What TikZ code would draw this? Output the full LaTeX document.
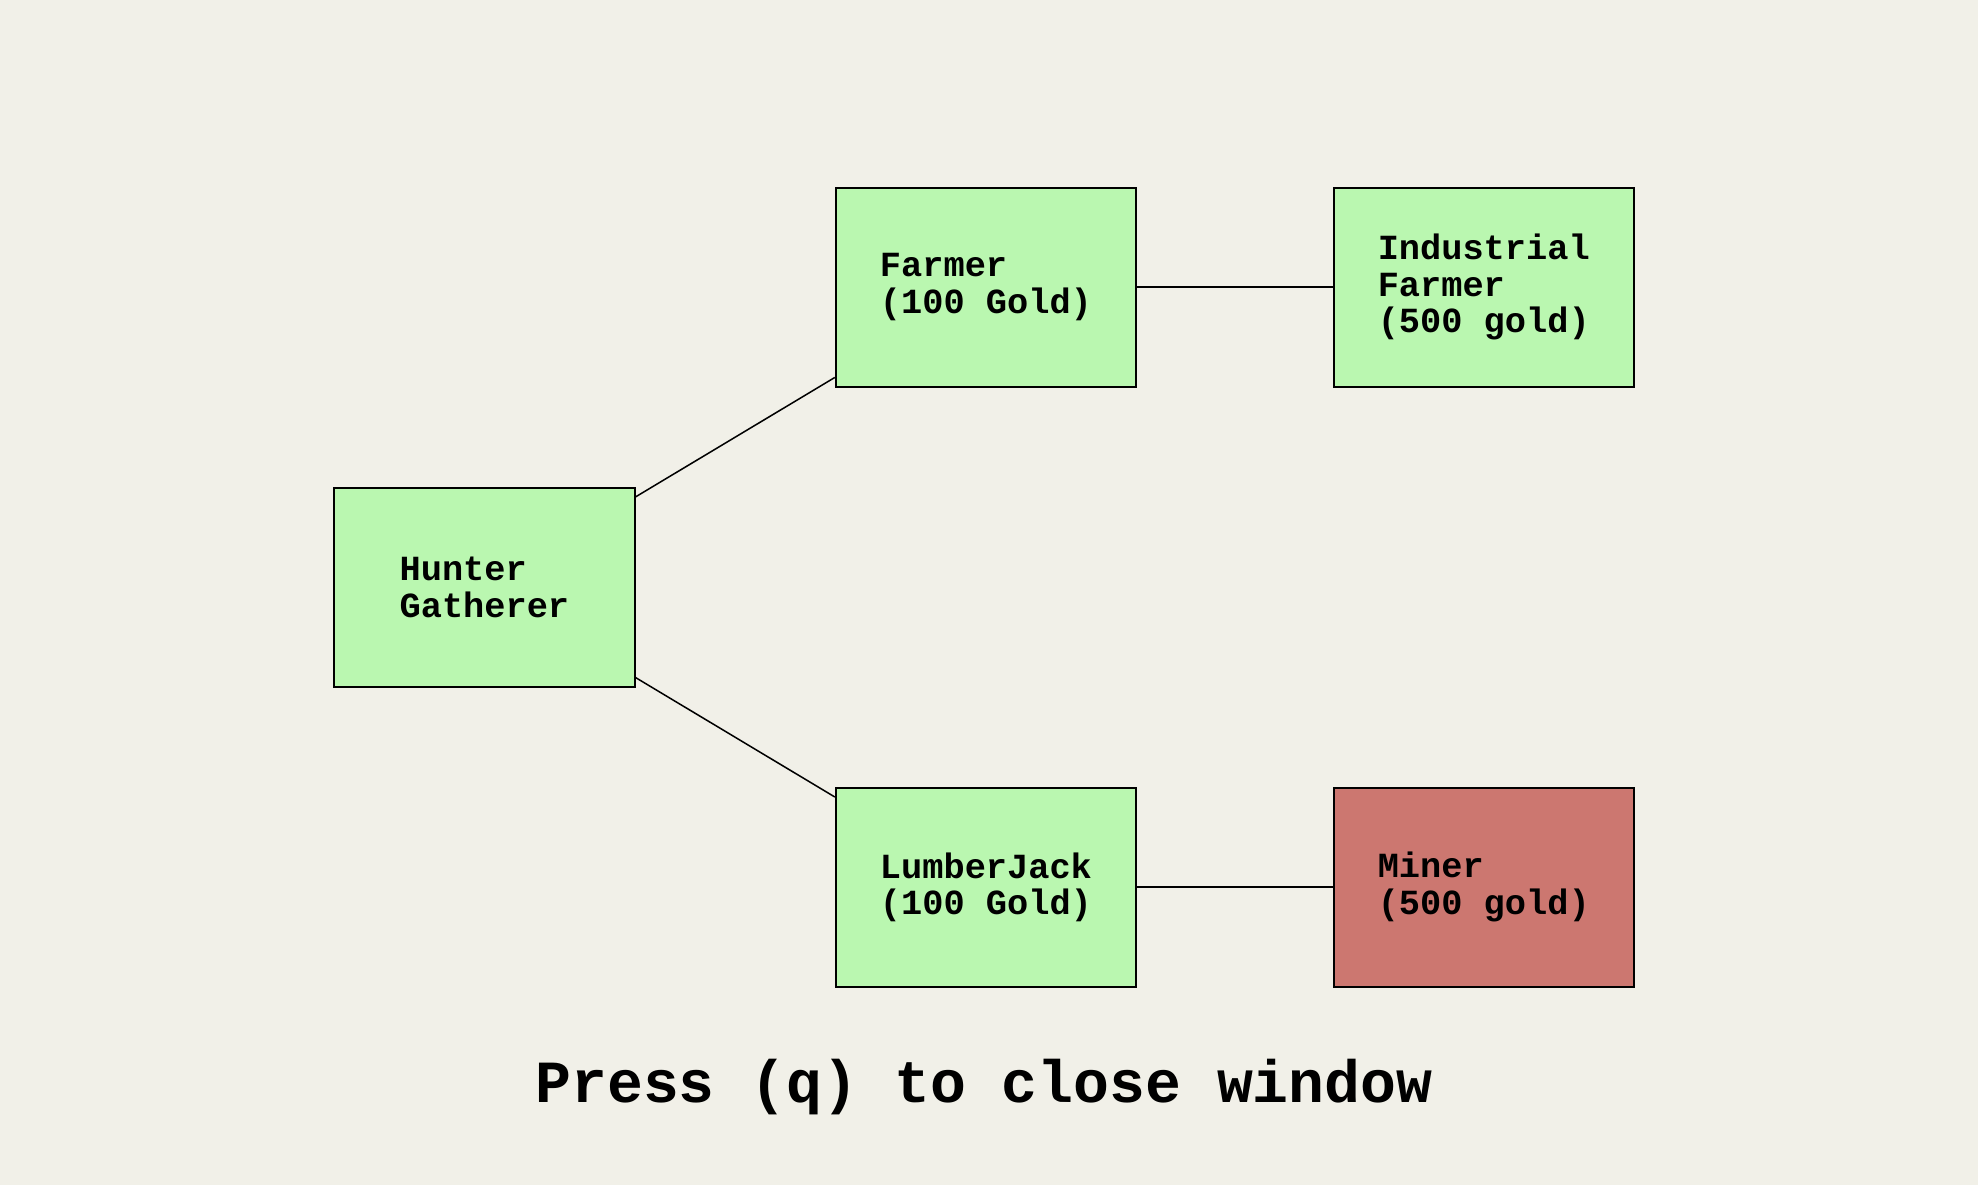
\documentclass[tikz,border=0pt]{standalone}
\usepackage{fontspec}
\setmonofont{Liberation Mono}
\usetikzlibrary{positioning}
\definecolor{bgcol}{HTML}{F1F0E8}
\definecolor{opencol}{HTML}{BAF7B0}
\definecolor{lockcol}{HTML}{CC7770}
\tikzset{
	job/.style={draw, line width=0.8pt, fill=opencol, minimum width=119pt, minimum height=79pt,
		align=left, font=\ttfamily\bfseries\fontsize{14}{14.5}\selectfont},
	lockedjob/.style={job, fill=lockcol}
}

\begin{document}
\begin{tikzpicture}
		\fill[bgcol] (-192pt,232.75pt) rectangle (592pt,-236.75pt);
		\draw
		node[job] (hunter) {Hunter\\Gatherer}
		node[job, above right=79pt and 79pt of hunter.east, anchor=south west] (farmer) {Farmer\\(100 Gold)}
		node[job, below right=79pt and 79pt of hunter.east, anchor=north west] (lumber) {LumberJack\\(100 Gold)}
		node[job, right=77.5pt of farmer] (indfarmer) {Industrial\\Farmer\\(500 gold)}
		node[lockedjob, right=77.5pt of lumber] (miner) {Miner\\(500 gold)};
		\draw[line width=0.6pt] (hunter) -- (farmer);
		\draw[line width=0.6pt] (hunter) -- (lumber);
		\draw[line width=0.6pt] (farmer) -- (indfarmer);
		\draw[line width=0.6pt] (lumber) -- (miner);
		\node[font=\ttfamily\bfseries\fontsize{23.7}{28}\selectfont] (quit) at (198pt,-198.25pt) {Press (q) to close window};
	\end{tikzpicture}
\end{document}
